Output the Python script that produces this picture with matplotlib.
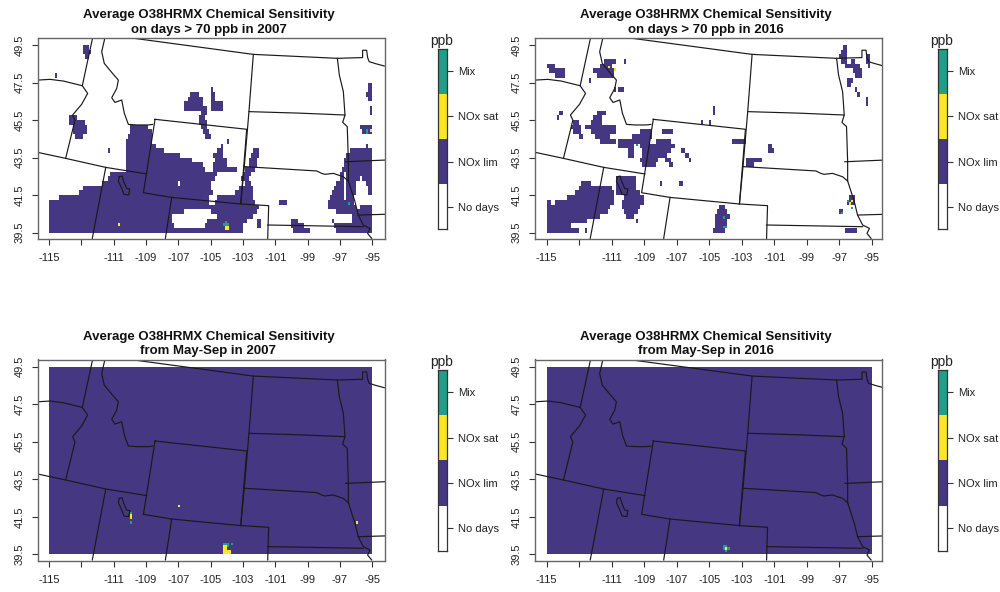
import numpy as np
import matplotlib
matplotlib.use('Agg')
import matplotlib.pyplot as plt
from matplotlib.colors import ListedColormap

plt.rcParams['font.family'] = ['Liberation Sans', 'DejaVu Sans']

W, H = 1000, 592

legend_labels = ['No days', 'NOx lim', 'NOx sat', 'Mix']
legend_colors = ['#ffffff', '#453781', '#fde725', '#1f9e89']
lon_ticks = [-115, -113, -111, -109, -107, -105, -103, -101, -99, -97, -95]
lon_labels = ['-115', '', '-111', '-109', '-107', '-105', '-103', '-101', '-99', '-97', '-95']
lat_ticks = [39.5, 41.5, 43.5, 45.5, 47.5, 49.5]

# state lines, lon/lat
canada = [(-110.03, 49.89), (-102.36, 49.0), (-97.16, 48.79), (-95.6, 48.83), (-95.6, 49.22), (-95.35, 49.22),
          (-95.29, 48.83), (-95.19, 48.61), (-94.73, 48.49), (-94.26, 48.38)]
idaho_west = [(-112.3, 49.89), (-112.94, 47.33), (-112.61, 46.92), (-112.98, 46.34), (-113.54, 45.77),
              (-113.39, 45.5), (-113.97, 43.46)]
wa_or = [(-115.7, 47.63), (-114.94, 47.67), (-114.11, 47.58), (-112.94, 47.33)]
nv_north = [(-115.7, 43.78), (-113.97, 43.46), (-111.49, 42.98), (-108.96, 42.63)]
nv_ut = [(-111.49, 42.98), (-112.32, 39.2)]
id_mt = [(-111.54, 49.89), (-111.74, 49.14), (-111.58, 48.52), (-111.12, 48.04), (-110.71, 47.63), (-110.81, 47.19),
         (-111.12, 46.69), (-110.92, 46.44), (-110.5, 46.57), (-110.34, 45.86), (-110.09, 45.27), (-109.58, 45.24),
         (-108.86, 45.24), (-108.59, 45.27)]
wyoming = [(-108.44, 45.54), (-102.77, 45.01), (-103.14, 41.03), (-107.41, 41.38), (-109.16, 41.63), (-108.44, 45.54)]
co_north = [(-103.14, 41.03), (-101.41, 40.94), (-101.47, 39.2)]
ut_co = [(-107.41, 41.38), (-107.8, 39.2)]
mt_east = [(-102.36, 49.0), (-102.63, 45.95), (-102.92, 43.02), (-103.14, 41.03)]
sd_north = [(-102.63, 45.95), (-99.5, 45.87), (-96.69, 45.77)]
ne_north = [(-102.92, 43.02), (-98.44, 42.79), (-98.13, 42.66), (-97.93, 42.61), (-97.41, 42.66), (-96.79, 42.48),
            (-96.48, 42.25), (-96.07, 41.15), (-95.87, 40.44), (-95.56, 39.91), (-95.14, 39.73), (-95.29, 39.46),
            (-95.04, 39.2)]
ks_north = [(-101.47, 39.91), (-95.56, 39.82)]
nd_east = [(-97.16, 48.79), (-97.04, 47.9), (-96.79, 47.01), (-96.69, 45.77), (-96.83, 45.38), (-96.55, 45.15),
           (-96.48, 43.28), (-96.48, 42.25)]
ia_north = [(-96.65, 43.28), (-94.22, 43.37)]
ia_south = [(-95.87, 40.44), (-94.22, 40.48)]
salt_lake = [(-110.65, 42.48), (-110.48, 42.52), (-110.36, 42.18), (-110.2, 41.86), (-110.0, 41.83), (-110.07, 41.51),
             (-110.36, 41.54), (-110.5, 41.86), (-110.71, 42.25), (-110.65, 42.48)]
state_lines = [canada, idaho_west, wa_or, nv_north, nv_ut, id_mt, wyoming, co_north, ut_co, mt_east, sd_north,
               ne_north, ks_north, nd_east, ia_north, ia_south, salt_lake]

# NOx limited cells on high days, (lat of band, [(lon from, lon to), ...])
lim_high_2007 = [
    (39.5, [(-115, -103), (-99.9, -98.85), (-97.3, -95)]),
    (39.75, [(-115, -107.2), (-105.35, -103), (-102.1, -101.9), (-100, -99.2), (-97.4, -95)]),
    (40.0, [(-115, -107.4), (-105.25, -102.7), (-102.1, -101.9), (-100, -99.6), (-97.5, -97.4), (-96.3, -95)]),
    (40.25, [(-115, -107.4), (-104.6, -102.4), (-96.3, -95)]),
    (40.5, [(-115, -106.6), (-105, -102.1), (-97.2, -95)]),
    (40.75, [(-115, -102), (-97.7, -96), (-95.7, -95)]),
    (41.0, [(-115, -105.1), (-104.7, -102.3), (-100.8, -100.3), (-97.7, -96.1)]),
    (41.25, [(-114.4, -105.15), (-104.65, -102.35), (-97.6, -96.75), (-96.6, -96.1)]),
    (41.5, [(-113.1, -104.85), (-103.5, -102.4), (-97.5, -96.75), (-96.6, -96.05), (-95.2, -95)]),
    (41.75, [(-112.9, -105), (-103.3, -102.4), (-97.35, -96.75), (-96.6, -96.05), (-95.25, -95)]),
    (42.0, [(-111.7, -107.05), (-106.9, -105), (-102.9, -102.5), (-97.2, -96.75), (-96.6, -95.95), (-95.4, -95)]),
    (42.25, [(-111.4, -104.7), (-103.1, -102.6), (-97.05, -96.75), (-96.6, -95.75), (-95.6, -95)]),
    (42.5, [(-111.2, -104.6), (-103, -102.5), (-96.95, -96.75), (-96.6, -95)]),
    (42.75, [(-110.2, -105.4), (-104.9, -103.4), (-102.9, -102.3), (-96.85, -95)]),
    (43.0, [(-110.2, -105.5), (-104.9, -104), (-102.6, -102.1), (-96.75, -95)]),
    (43.25, [(-110.2, -106.1), (-104.8, -104), (-102.6, -102.1), (-96.7, -95)]),
    (43.5, [(-110.2, -106.9), (-104.85, -104.2), (-102.5, -102.05), (-96.6, -95)]),
    (43.75, [(-110.2, -107.9), (-104.6, -104.2), (-102.4, -102.05), (-111.4, -111.2), (-96.4, -95)]),
    (44.0, [(-110.2, -108.4), (-104.4, -104.2), (-95.4, -95.2)]),
    (44.25, [(-110.2, -108.6), (-104, -103.9)]),
    (44.5, [(-113.4, -112.9), (-110.1, -108.6), (-105.4, -105.05)]),
    (44.75, [(-113.5, -112.65), (-110, -108.65), (-105.55, -105.15), (-95.6, -95)]),
    (45.0, [(-113.5, -112.65), (-110, -108.9), (-105.6, -105.3), (-95.8, -95)]),
    (45.25, [(-113.8, -112.7), (-105.7, -105.3)]),
    (45.5, [(-113.8, -113.3), (-105.75, -105.35)]),
    (45.75, [(-105.65, -105.3), (-95.15, -95)]),
    (46.0, [(-106.6, -105.3), (-105, -104.3), (-95.15, -95)]),
    (46.25, [(-106.6, -105.45), (-105, -104.3)]),
    (46.5, [(-106.4, -105.55), (-105, -104.75), (-95.25, -95)]),
    (46.75, [(-106.2, -105.7), (-105.05, -104.75), (-95.35, -95)]),
    (47.0, [(-105.05, -104.85), (-95.25, -95)]),
    (47.25, [(-95.2, -95)]),
    (47.75, [(-114.6, -114.45)]),
    (48.75, [(-112.8, -112.5)]),
    (49.0, [(-112.9, -112.35)]),
    (49.25, [(-112.9, -112.5)]),
]
sat_high_2007 = [(39.625, -104.125), (39.625, -104.0), (39.75, -104.125), (39.75, -104.0), (39.875, -110.75),
                 (44.875, -95.125)]
mix_high_2007 = [(39.875, -104.25), (39.875, -104.125), (39.875, -104.0), (40.0, -104.125), (41.0, -96.5),
                 (44.875, -95.375), (44.75, -95.375)]

lim_high_2016 = [
    (39.5, [(-115, -113.55), (-113.45, -112.95), (-112.6, -112.45), (-104.75, -103.95), (-96.65, -95.9)]),
    (39.75, [(-115, -113.45), (-104.65, -103.85)]),
    (40.0, [(-115, -112.45), (-109.5, -109.35), (-104.65, -103.85)]),
    (40.25, [(-115, -111.7), (-110.1, -109.65), (-104.65, -103.75)]),
    (40.5, [(-115, -111.3), (-110.3, -109.35), (-104.55, -103.85), (-97, -96.8)]),
    (40.75, [(-115, -111.1), (-110.4, -109.25), (-104.4, -103.95)]),
    (41.0, [(-115, -114.7), (-114.5, -110.9), (-110.4, -109.05), (-96.5, -96.0)]),
    (41.25, [(-113.8, -110.9), (-110.3, -109.05), (-96.4, -96.0)]),
    (41.5, [(-113.25, -110.9), (-110.8, -109.3)]),
    (41.75, [(-113, -111.8), (-111.7, -110.95), (-110.8, -109.55)]),
    (42.0, [(-112.9, -112.3), (-110.7, -109.5), (-108.05, -107.85), (-106.85, -106.65)]),
    (42.25, [(-110.7, -109.5)]),
    (43.0, [(-109.15, -108.3), (-107.5, -107.25), (-102.8, -102.2)]),
    (43.25, [(-109.25, -108.1), (-107.8, -107.4), (-106.2, -106.1), (-102.8, -101.7)]),
    (43.5, [(-109.15, -107.6), (-110.05, -109.65), (-106.45, -106.3)]),
    (43.75, [(-109.15, -107.4), (-110.05, -109.65), (-106.7, -106.55), (-101.4, -101)]),
    (44.0, [(-110.6, -109.65), (-109.25, -107.1), (-101.4, -101.1)]),
    (44.25, [(-111.7, -110.7), (-110.6, -108.6), (-108.2, -107.4), (-103.6, -102.7)]),
    (44.5, [(-112.95, -112.75), (-112, -111.1), (-109.75, -108.45)]),
    (44.75, [(-113.35, -112.85), (-112.2, -110.8), (-109.25, -108.45), (-107.9, -107.3)]),
    (45.0, [(-113.45, -112.9), (-112.6, -110.8)]),
    (45.25, [(-113.4, -112.95), (-112.2, -111.6), (-105.5, -105.4), (-104.95, -104.85)]),
    (45.5, [(-112.15, -111.6), (-114.4, -114.25)]),
    (45.75, [(-111.9, -111.4), (-114.3, -114), (-104.8, -104.7)]),
    (46.0, [(-104.8, -104.7)]),
    (46.25, [(-95.35, -95.25)]),
    (46.5, [(-95.35, -95.25)]),
    (46.75, [(-95.85, -95.75)]),
    (47.0, [(-110.9, -110.7), (-110.6, -110.3), (-96.05, -95.95)]),
    (47.25, [(-96.55, -96.3)]),
    (47.5, [(-96.5, -96.1), (-112.35, -112.2)]),
    (47.75, [(-111.9, -110.9), (-114.5, -113.9), (-95.95, -95.6)]),
    (48.0, [(-112.15, -110.9), (-114.9, -113.9), (-96.15, -95.65)]),
    (48.25, [(-111.8, -111), (-115, -114.5), (-96.65, -95.7), (-95.2, -95.1)]),
    (48.5, [(-111.5, -110.7), (-110.25, -110.1), (-96.9, -96.45), (-96.3, -96.0), (-95.35, -95.1)]),
    (48.75, [(-97, -96.55), (-95.4, -95.15)]),
    (49.0, [(-96.85, -96.55)]),
    (49.25, [(-96.8, -96.55)]),
]
sat_high_2016 = [(48.25, -111.25), (48.125, -110.875), (41.0, -96.375), (41.125, -96.25)]
mix_high_2016 = [(44.125, -109.5), (40.25, -104.125), (39.75, -104.125), (39.75, -104.0), (41.125, -96.5),
                 (40.75, -96.25), (40.5, -96.875)]

# May-Sep panels are NOx limited everywhere except these cells
sat_season_2007 = [(42.0, -107.0), (41.5, -110.0), (41.375, -110.0), (41.125, -96.0), (39.5, -104.25),
                   (39.5, -104.125), (39.5, -104.0), (39.5, -103.875), (39.625, -104.25), (39.625, -104.125),
                   (39.625, -104.0), (39.625, -103.875), (39.75, -104.25), (39.75, -104.125), (39.875, -104.25),
                   (39.875, -104.125)]
mix_season_2007 = [(41.625, -110.0), (41.125, -110.0), (40.0, -104.25), (40.0, -104.125), (40.0, -104.0),
                   (40.0, -103.75), (39.875, -104.0)]
sat_season_2016 = [(39.75, -104.0)]
mix_season_2016 = [(39.875, -104.125), (39.875, -104.0), (39.75, -104.125), (39.625, -104.0), (39.75, -103.875)]

titles = ['Average O38HRMX Chemical Sensitivity\non days > 70 ppb in 2007',
          'Average O38HRMX Chemical Sensitivity\non days > 70 ppb in 2016',
          'Average O38HRMX Chemical Sensitivity\nfrom May-Sep in 2007',
          'Average O38HRMX Chemical Sensitivity\nfrom May-Sep in 2016']

lon_edges = np.arange(-115, -95 + 0.01, 0.125)
lat_edges = np.arange(39.5, 49.5 + 0.01, 0.125)
cmap = ListedColormap(legend_colors)


def make_grid(lim_rows, sat_cells, mix_cells, all_lim=False):
    grid = np.zeros((len(lat_edges) - 1, len(lon_edges) - 1))
    if all_lim:
        grid[:] = 1
    for lat, spans in lim_rows:
        r = int(round((lat - 39.5) / 0.125))
        for lon0, lon1 in spans:
            c0 = int(round((lon0 + 115) / 0.125))
            c1 = max(int(round((lon1 + 115) / 0.125)), c0 + 1)
            grid[r:r + 2, c0:c1] = 1
    for val, cells in ((2, sat_cells), (3, mix_cells)):
        for lat, lon in cells:
            grid[int(round((lat - 39.5) / 0.125)), int(round((lon + 115) / 0.125))] = val
    return grid


def px_axes(fig, left, top, right, bottom):
    return fig.add_axes([left / W, 1 - bottom / H, (right - left) / W, (bottom - top) / H])


def draw_map(fig, box, grid, title):
    left, top, right, bottom, lon0_px, lon1_px, lat0_px, lat1_px = box
    ax = px_axes(fig, left, top, right, bottom)
    ax.pcolormesh(lon_edges, lat_edges, grid, cmap=cmap, vmin=-0.5, vmax=3.5, antialiased=False, rasterized=True)
    for line in state_lines:
        ax.plot([p[0] for p in line], [p[1] for p in line], color='#1a1a1a', lw=0.85, solid_joinstyle='round')
    dx = 20 / (lon1_px - lon0_px)
    dy = 10 / (lat0_px - lat1_px)
    ax.set_xlim(-115 + (left - lon0_px) * dx, -95 + (right - lon1_px) * dx)
    ax.set_ylim(39.5 - (bottom - lat0_px) * dy, 49.5 + (lat1_px - top) * dy)
    ax.set_xticks(lon_ticks, lon_labels)
    ax.set_yticks(lat_ticks, [str(v) for v in lat_ticks], rotation=90, va='center')
    ax.tick_params(axis='x', length=4.6, width=0.8, color='#333333', labelsize=8, labelcolor='#222222', pad=5.5)
    ax.tick_params(axis='y', length=4.3, width=0.8, color='#333333', labelsize=8, labelcolor='#222222', pad=5.5)
    for s in ax.spines.values():
        s.set_color('#666666')
        s.set_linewidth(1.0)
    fig.text((left + right) / 2 / W - 0.003, 1 - (top - 15.5) / H, title, ha='center', va='center',
             fontsize=9.5, fontweight='bold', color='#111111', linespacing=1.3)
    return ax


def draw_legend(fig, left, top, right, bottom):
    ax = px_axes(fig, left, top, right, bottom)
    for i, col in enumerate(legend_colors):
        ax.bar(0, 1, bottom=i, width=1, color=col, linewidth=0)
    ax.set_xlim(-0.5, 0.5)
    ax.set_ylim(0, 4)
    ax.set_xticks([])
    ax.yaxis.tick_right()
    ax.set_yticks(np.arange(len(legend_labels)) + 0.5, legend_labels)
    ax.tick_params(axis='y', length=4.5, width=0.8, color='#333333', labelsize=8, labelcolor='#222222', pad=4)
    for s in ax.spines.values():
        s.set_color('#333333')
        s.set_linewidth(0.9)
    ax.set_title('ppb', fontsize=10, color='#222222', pad=0.5)


fig = plt.figure(figsize=(W / 100, H / 100), dpi=100)

grids = [make_grid(lim_high_2007, sat_high_2007, mix_high_2007),
         make_grid(lim_high_2016, sat_high_2016, mix_high_2016),
         make_grid([], sat_season_2007, mix_season_2007, all_lim=True),
         make_grid([], sat_season_2016, mix_season_2016, all_lim=True)]

# left, top, right, bottom, x of -115, x of -95, y of 39.5, y of 49.5 (pixels)
boxes = [(38, 38, 385, 239, 49, 372.3, 232.7, 45),
         (535, 38, 882, 239, 546.7, 871.7, 232.7, 45),
         (38, 359.5, 385, 561, 49, 372.3, 554.3, 366.7),
         (535, 359.5, 882, 561, 546.7, 871.7, 554.3, 366.7)]
legends = [(437.5, 48.5, 446.5, 229.5), (937.5, 48.5, 946.5, 229.5),
           (437.5, 369.5, 446.5, 551), (937.5, 369.5, 946.5, 551)]

for box, grid, title in zip(boxes, grids, titles):
    draw_map(fig, box, grid, title)
for leg in legends:
    draw_legend(fig, *leg)

fig.savefig('out.png', dpi=100, facecolor='white')
plt.close(fig)
